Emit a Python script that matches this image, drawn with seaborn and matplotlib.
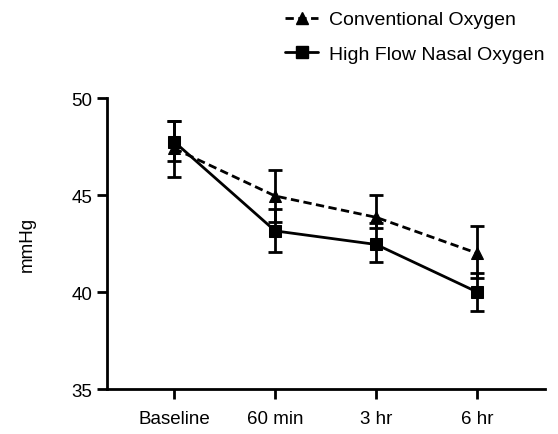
import numpy as np
import pandas as pd
import matplotlib
matplotlib.use("Agg")
import matplotlib.pyplot as plt
import seaborn as sns
from matplotlib.lines import Line2D

# values
timepoints = ["Baseline", "60 min", "3 hr", "6 hr"]
conv_mean = [47.4, 44.95, 43.85, 42.0]
conv_low = [45.95, 43.6, 43.3, 40.7]
conv_high = [48.8, 46.3, 45.0, 43.4]
hfno_mean = [47.75, 43.15, 42.45, 40.0]
hfno_low = [46.75, 42.05, 41.55, 39.0]
hfno_high = [48.8, 44.3, 43.55, 41.0]

sns.set_style("ticks")
plt.rcParams["font.family"] = ["Liberation Sans", "DejaVu Sans"]
plt.rcParams["text.color"] = "black"

df = pd.DataFrame({
    "time": timepoints * 2,
    "mmHg": conv_mean + hfno_mean,
    "group": ["Conventional Oxygen"] * 4 + ["High Flow Nasal Oxygen"] * 4,
})

fig = plt.figure(figsize=(5.58, 4.35), dpi=100)
ax = fig.add_axes([0.192, 0.1034, 0.785, 0.669])

sns.lineplot(data=df, x="time", y="mmHg", hue="group", style="group",
             palette=["black", "black"], markers=["^", "s"],
             dashes=[(3, 1.6), ""], markersize=9, linewidth=2,
             markeredgecolor="black", ax=ax, legend=False, sort=False)

x = np.arange(len(timepoints))
for m, lo, hi in [(conv_mean, conv_low, conv_high), (hfno_mean, hfno_low, hfno_high)]:
    m = np.array(m)
    yerr = [m - np.array(lo), np.array(hi) - m]
    ax.errorbar(x, m, yerr=yerr, fmt="none", ecolor="black",
                elinewidth=2, capsize=5, capthick=2)

ax.set_xlim(-0.663, 3.673)
ax.set_ylim(35, 50)
ax.set_yticks([35, 40, 45, 50])
ax.set_xlabel("")
ax.set_ylabel("mmHg", fontsize=13.5, labelpad=26, color="black")
ax.tick_params(axis="both", labelsize=13.5, width=2, length=7,
               color="black", labelcolor="black")
ax.tick_params(axis="x", pad=8)
sns.despine(ax=ax)
for s in ["left", "bottom"]:
    ax.spines[s].set_linewidth(2)
    ax.spines[s].set_color("black")

handles = [
    Line2D([], [], color="black", linestyle=(0, (3, 1.6)), linewidth=2,
           marker="^", markersize=8),
    Line2D([], [], color="black", linestyle="-", linewidth=2,
           marker="s", markersize=8),
]
fig.legend(handles, ["Conventional Oxygen", "High Flow Nasal Oxygen"],
           loc="upper left", bbox_to_anchor=(0.48, 1.013), frameon=False,
           fontsize=14, handlelength=1.7, handletextpad=0.55,
           labelspacing=0.85)

fig.savefig("out.png", dpi=100)
